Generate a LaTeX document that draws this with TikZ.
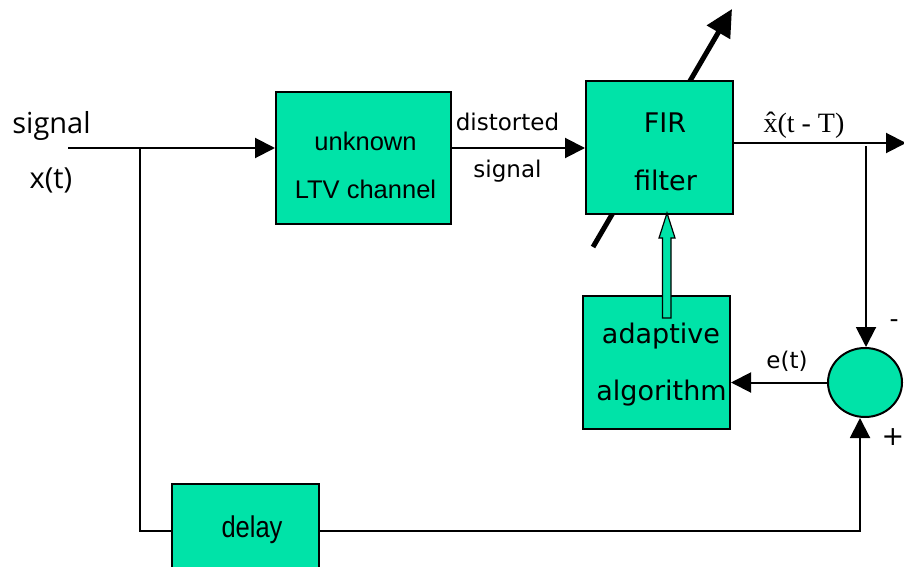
\documentclass[tikz,border=0pt]{standalone}
\usepackage{fontspec}
\setmainfont{Liberation Sans}
\newfontfamily\djf{DejaVu Sans}
\newfontfamily\osf{Open Sans}
\newfontfamily\tmf{Liberation Serif}
\usetikzlibrary{arrows.meta,shapes.geometric}
\definecolor{boxgreen}{RGB}{0,227,168}
\tikzset{
  blk/.style={draw=black, line width=2pt, fill=boxgreen, rectangle, inner sep=0pt},
  conn/.style={draw=black, line width=2pt},
  arr/.style={conn, -{Triangle[length=20pt,width=20pt]}},
  lbl/.style={anchor=base, inner sep=0pt, text=black},
}
\begin{document}
\begin{tikzpicture}[x=1pt,y=-1pt]
\clip (0,0) rectangle (904,567);
\useasboundingbox (0,0) rectangle (904,567);

% tuning arrow under FIR box
\coordinate (dg1) at (593,247);
\coordinate (dg2) at (732,9);
\draw[line width=5pt, -{Triangle[length=27pt,width=26pt]}] (dg1) -- (dg2);

% blocks
\node[blk, minimum width=175, minimum height=132] (ch) at (363.5,158) {};
\node[blk, minimum width=147, minimum height=132] (fir) at (659.5,147.5) {};
\node[blk, minimum width=147, minimum height=133] (alg) at (656.5,362.5) {};
\node[blk, minimum width=147, minimum height=110] (dl) at (245.5,539) {};
\node[draw=black, line width=2pt, fill=boxgreen, ellipse, inner sep=0pt,
      minimum width=74, minimum height=69] (sum) at (865,382.5) {};

% texts
\node[lbl, font=\osf\fontsize{29}{29}\selectfont] (tsig) at (51.5,133) {signal};
\node[lbl, font=\osf\fontsize{29}{29}\selectfont] (tx) at (51,188) {x(t)};
\node[lbl, font=\fontsize{25.5}{25.5}\selectfont] (tun) at (365.5,150) {unknown};
\node[lbl, font=\fontsize{25.5}{25.5}\selectfont] (tltv) at (365.5,198) {LTV channel};
\node[lbl, font=\djf\fontsize{23}{23}\selectfont] (tdis) at (507.5,130) {distorted};
\node[lbl, font=\djf\fontsize{23}{23}\selectfont] (tdsig) at (507.5,177) {signal};
\node[lbl, font=\djf\fontsize{27}{27}\selectfont] (tfir) at (665,132) {FIR};
\node[lbl, font=\djf\fontsize{27}{27}\selectfont] (tfil) at (665.5,190) {filter};
\node[lbl, font=\tmf\fontsize{28}{28}\selectfont] (txh) at (804,132) {\^{x}(t - T)};
\node[lbl, font=\djf\fontsize{27}{27}\selectfont] (tad) at (661,343) {adaptive};
\node[lbl, font=\djf\fontsize{27}{27}\selectfont] (tal) at (661.5,400) {algorithm};
\node[lbl, font=\djf\fontsize{23}{23}\selectfont] (tet) at (787,368) {e(t)};
\node[anchor=center, inner sep=0pt, font=\djf\fontsize{25}{25}\selectfont] (tmin) at (894,324) {-};
\node[anchor=center, inner sep=0pt, font=\djf\fontsize{27}{27}\selectfont] (tplus) at (893,437) {+};
\node[lbl, font=\fontsize{30}{30}\selectfont, xscale=0.85] (tdl) at (252,537) {delay};

% connectors
\coordinate (in) at (68,148);
\coordinate (j) at (140,148);
\coordinate (bl) at (140,531);
\coordinate (br) at (860,531);
\coordinate (out) at (906,143);
\coordinate (tap) at (866,146);

\draw[arr] (in) -- (in -| ch.west);
\draw[arr] (ch.east |- in) -- (in -| fir.west);
\draw[arr] (out -| fir.east) -- (out);
\draw[arr] (tap) -- (tap |- sum.north);
\draw[arr] (sum.west) -- (sum.west -| alg.east);
\draw[conn] (j) -- (bl) -- (bl -| dl.west);
\draw[arr] (bl -| dl.east) -- (br) -- (br |- sum.south);

% hollow adaptation arrow
\draw[fill=boxgreen, line width=1.2pt, line join=miter]
  (662.5,318) -- (662.5,238) -- (659,238) -- (667,213) -- (675,238)
  -- (671,238) -- (671,318) -- cycle;
\end{tikzpicture}
\end{document}
